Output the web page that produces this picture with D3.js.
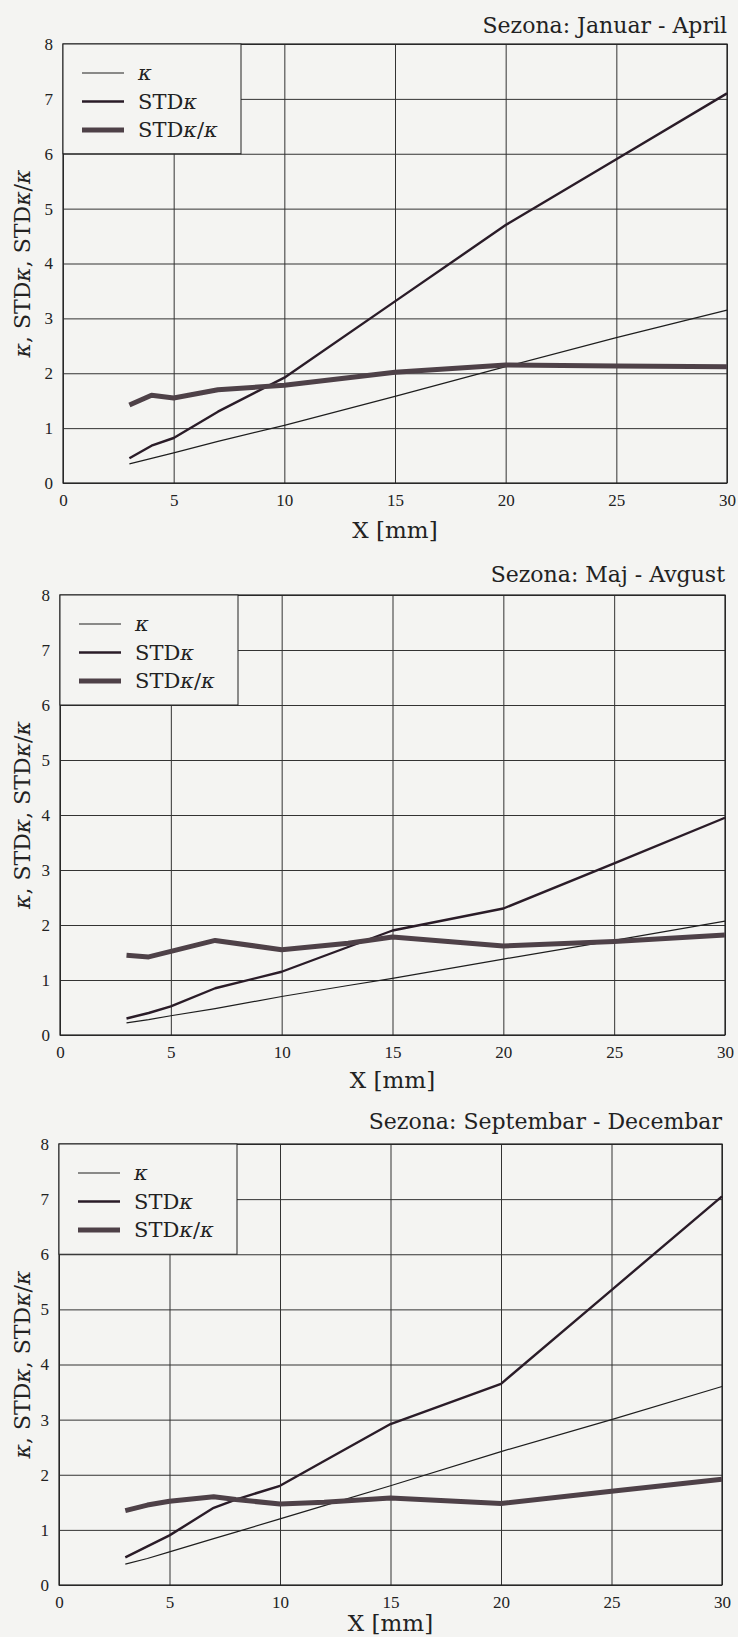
<!DOCTYPE html>
<html>
<head>
<meta charset="utf-8">
<script src="https://cdn.jsdelivr.net/npm/d3@7"></script>
<style>
    body { margin: 0; background: #f4f4f2; }
    svg { display: block; }
    .tick text { font-family: "Liberation Serif", serif; font-size: 17px; fill: #222; }
</style>
</head>
<body>
<script>
// axis ticks shared by all three panels
var xTicks = [0, 5, 10, 15, 20, 25, 30];
var yTicks = [0, 1, 2, 3, 4, 5, 6, 7, 8];
var seriesNames = ["κ", "STDκ", "STDκ/κ"];
var titles = ["Sezona: Januar - April", "Sezona: Maj - Avgust",
    "Sezona: Septembar - Decembar"];

// Januar - April
var janX = [3, 4, 5, 7, 10, 15, 20, 25, 30];
var janKappa = [0.35, 0.45, 0.55, 0.76, 1.05, 1.58, 2.12, 2.65, 3.15];
var janStd = [0.45, 0.68, 0.82, 1.3, 1.92, 3.31, 4.7, 5.9, 7.1];
var janRatio = [1.42, 1.6, 1.55, 1.7, 1.78, 2.02, 2.15, 2.13, 2.12];

// Maj - Avgust
var majX = [3, 4, 5, 7, 10, 13, 15, 20, 25, 30];
var majKappa = [0.22, 0.28, 0.35, 0.48, 0.7, 0.9, 1.03, 1.38, 1.72, 2.07];
var majStd = [0.3, 0.4, 0.52, 0.85, 1.15, 1.6, 1.9, 2.3, 3.12, 3.95];
var majRatio = [1.45, 1.42, 1.52, 1.72, 1.55, 1.67, 1.78, 1.62, 1.7, 1.82];

// Septembar - Decembar
var sepX = [3, 4, 5, 7, 8, 10, 12, 15, 20, 25, 30];
var sepKappa = [0.38, 0.48, 0.6, 0.84, 0.96, 1.2, 1.44, 1.8, 2.42, 3.0, 3.6];
var sepStd = [0.5, 0.7, 0.9, 1.4, 1.55, 1.8, 2.25, 2.92, 3.65, 5.35, 7.05];
var sepRatio = [1.35, 1.45, 1.52, 1.6, 1.55, 1.47, 1.5, 1.58, 1.48, 1.7,
    1.92];

var panels = [
    {x: janX, series: [janKappa, janStd, janRatio]},
    {x: majX, series: [majKappa, majStd, majRatio]},
    {x: sepX, series: [sepKappa, sepStd, sepRatio]}
];

// plot frame of each panel, in page pixels
var frames = [
    {top: 44, bottom: 483, left: 63, right: 727, titleY: 33, labelY: 538},
    {top: 595, bottom: 1035, left: 60, right: 725, titleY: 582,
        labelY: 1088},
    {top: 1144, bottom: 1585, left: 59, right: 722, titleY: 1129,
        labelY: 1631}
];

// line look per series: thin, medium, thick
var widths = [1.2, 2.4, 5];
var colors = ["#1e1e1e", "#2a1c28", "#4e4148"];
var serif = "'DejaVu Serif', serif";

// write a label with every kappa set in italic
function mathText(sel, str) {
    str.split(/(κ)/).forEach(function(part) {
        if (!part) return;
        var t = sel.append("tspan").text(part);
        if (part === "κ") t.style("font-style", "italic");
    });
}

var svg = d3.select("body").append("svg")
    .attr("width", 738)
    .attr("height", 1637);

panels.forEach(function(p, i) {
    var f = frames[i];
    var x = d3.scaleLinear().domain([0, 30]).range([f.left, f.right]);
    var y = d3.scaleLinear().domain([0, 8]).range([f.bottom, f.top]);
    var g = svg.append("g");

    // grid + tick labels through the axes
    g.append("g")
        .attr("transform", "translate(0," + f.bottom + ")")
        .call(d3.axisBottom(x).tickValues(xTicks)
            .tickSize(-(f.bottom - f.top)).tickPadding(11))
        .call(function(a) {
            a.select(".domain").remove();
            a.selectAll("line").attr("stroke", "#333").attr("stroke-width", 1);
        });
    g.append("g")
        .attr("transform", "translate(" + f.left + ",0)")
        .call(d3.axisLeft(y).tickValues(yTicks)
            .tickSize(-(f.right - f.left)).tickPadding(10))
        .call(function(a) {
            a.select(".domain").remove();
            a.selectAll("line").attr("stroke", "#333").attr("stroke-width", 1);
        });

    g.append("rect")
        .attr("x", f.left).attr("y", f.top)
        .attr("width", f.right - f.left).attr("height", f.bottom - f.top)
        .attr("fill", "none").attr("stroke", "#222").attr("stroke-width", 1.2);

    // the three series
    var line = d3.line()
        .x(function(d) { return x(d[0]); })
        .y(function(d) { return y(d[1]); });
    p.series.forEach(function(vals, k) {
        var pts = p.x.map(function(xv, j) { return [xv, vals[j]]; });
        g.append("path")
            .datum(pts)
            .attr("d", line)
            .attr("fill", "none")
            .attr("stroke", colors[k])
            .attr("stroke-width", widths[k])
            .attr("stroke-linejoin", "round");
    });

    // legend box from the left edge down to y = 6
    var lx = f.left, ly = y(8);
    g.append("rect")
        .attr("x", lx).attr("y", ly)
        .attr("width", 178).attr("height", y(6) - y(8))
        .attr("fill", "#f4f4f2").attr("stroke", "#222").attr("stroke-width", 1);
    seriesNames.forEach(function(name, k) {
        var ry = ly + 29 + k * 28.5;
        g.append("line")
            .attr("x1", lx + 19).attr("x2", lx + 61)
            .attr("y1", ry).attr("y2", ry)
            .attr("stroke", colors[k]).attr("stroke-width", widths[k]);
        g.append("text")
            .attr("x", lx + 75).attr("y", ry + 7)
            .style("font-family", serif).style("font-size", "21px")
            .attr("fill", "#222")
            .call(mathText, name);
    });

    // title, axis labels
    g.append("text")
        .attr("x", f.right).attr("y", f.titleY)
        .attr("text-anchor", "end")
        .style("font-family", serif).style("font-size", "22px")
        .attr("fill", "#222")
        .text(titles[i]);
    g.append("text")
        .attr("x", (f.left + f.right) / 2).attr("y", f.labelY)
        .attr("text-anchor", "middle")
        .style("font-family", serif).style("font-size", "23px")
        .attr("fill", "#222")
        .text("X [mm]");
    g.append("text")
        .attr("transform", "translate(30," + (f.top + f.bottom) / 2 +
            ") rotate(-90)")
        .attr("text-anchor", "middle")
        .style("font-family", serif).style("font-size", "22px")
        .attr("fill", "#222")
        .call(mathText, "κ, STDκ, STDκ/κ");
});
</script>
</body>
</html>
